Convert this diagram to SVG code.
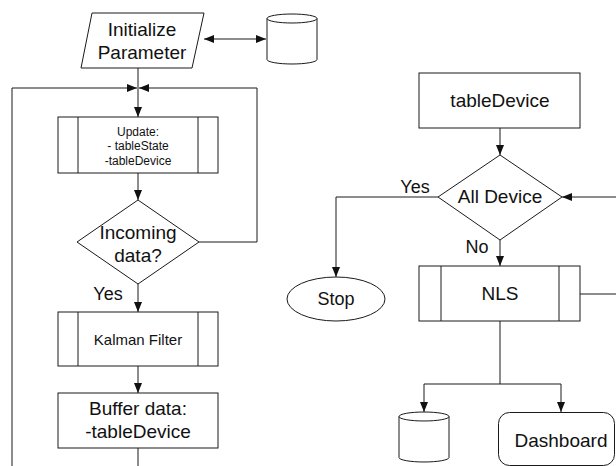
<svg xmlns="http://www.w3.org/2000/svg" width="616" height="466" viewBox="0 0 616 466">
  <style>
    .shape { fill: #ffffff; stroke: #1a1a1a; stroke-width: 1; }
    .edge { fill: none; stroke: #1a1a1a; stroke-width: 1; }
    text { font-family: "Liberation Sans", Arial, sans-serif; fill: #111111; text-anchor: middle; }
    .big { font-size: 19px; }
    .mid { font-size: 18px; }
    .small { font-size: 12px; }
    .kal { font-size: 15px; }
  </style>
  <defs>
    <marker id="arrow" viewBox="0 0 10 8" refX="10" refY="4" markerWidth="10" markerHeight="8" markerUnits="userSpaceOnUse" orient="auto-start-reverse">
      <path d="M0,0 L10,4 L0,8 Z" fill="#111111"/>
    </marker>
  </defs>

  <!-- connectors -->
  <g id="connectors">
    <line class="edge" x1="204" y1="39" x2="266" y2="39" marker-start="url(#arrow)" marker-end="url(#arrow)"/>
    <line class="edge" x1="138" y1="68" x2="138" y2="117" marker-end="url(#arrow)"/>
    <polyline class="edge" points="12,466 12,88 137,88" marker-end="url(#arrow)"/>
    <polyline class="edge" points="199,242 257,242 257,88 139,88" marker-end="url(#arrow)"/>
    <line class="edge" x1="138" y1="173" x2="138" y2="200" marker-end="url(#arrow)"/>
    <line class="edge" x1="138" y1="284" x2="138" y2="312" marker-end="url(#arrow)"/>
    <line class="edge" x1="138" y1="366" x2="138" y2="393" marker-end="url(#arrow)"/>
    <line class="edge" x1="138" y1="448" x2="138" y2="466"/>

    <line class="edge" x1="500" y1="128" x2="500" y2="155" marker-end="url(#arrow)"/>
    <polyline class="edge" points="438,197 336,197 336,277" marker-end="url(#arrow)"/>
    <line class="edge" x1="500" y1="240" x2="500" y2="266" marker-end="url(#arrow)"/>
    <line class="edge" x1="616" y1="197" x2="562" y2="197" marker-end="url(#arrow)"/>
    <line class="edge" x1="580" y1="294" x2="616" y2="294"/>
    <line class="edge" x1="500" y1="321" x2="500" y2="384"/>
    <polyline class="edge" points="424,412 424,384 561,384 561,412" marker-start="url(#arrow)" marker-end="url(#arrow)"/>
  </g>

  <!-- left flow -->
  <g id="init">
    <polygon class="shape" points="92,13 204,13 192,68 81,68"/>
    <text class="big" x="142" y="36">Initialize</text>
    <text class="big" x="142" y="59">Parameter</text>
  </g>
  <g id="storeTop">
    <path class="shape" d="M267,18.5 L267,59.5 A25,4.5 0 0 0 317,59.5 L317,18.5 A25,4.5 0 0 0 267,18.5 Z"/>
    <path class="edge" d="M267,18.5 A25,4.5 0 0 0 317,18.5"/>
  </g>
  <g id="update">
    <rect class="shape" x="58" y="117" width="160" height="56"/>
    <line class="edge" x1="78" y1="117" x2="78" y2="173"/>
    <line class="edge" x1="198" y1="117" x2="198" y2="173"/>
    <text class="small" x="138" y="136">Update:</text>
    <text class="small" x="138" y="150">- tableState</text>
    <text class="small" x="138" y="165">-tableDevice</text>
  </g>
  <g id="incoming">
    <polygon class="shape" points="138,200 199,242 138,284 77,242"/>
    <text class="big" x="138" y="239">Incoming</text>
    <text class="big" x="138" y="262">data?</text>
  </g>
  <g id="yesLeft">
    <text class="mid" x="108" y="300">Yes</text>
  </g>
  <g id="kalman">
    <rect class="shape" x="58" y="312" width="160" height="54"/>
    <line class="edge" x1="78" y1="312" x2="78" y2="366"/>
    <line class="edge" x1="198" y1="312" x2="198" y2="366"/>
    <text class="kal" x="138" y="345">Kalman Filter</text>
  </g>
  <g id="buffer">
    <rect class="shape" x="58" y="393" width="160" height="55"/>
    <text class="big" x="138" y="415">Buffer data:</text>
    <text class="big" x="138" y="438">-tableDevice</text>
  </g>

  <!-- right flow -->
  <g id="tableDevice">
    <rect class="shape" x="419" y="73" width="161" height="55"/>
    <text class="big" x="500" y="107">tableDevice</text>
  </g>
  <g id="allDevice">
    <polygon class="shape" points="500,155 562,197 500,240 438,197"/>
    <text class="big" x="500" y="203">All Device</text>
  </g>
  <g id="labels">
    <text class="mid" x="415" y="193">Yes</text>
    <text class="mid" x="477" y="253">No</text>
  </g>
  <g id="stop">
    <ellipse class="shape" cx="336" cy="299" rx="49" ry="22"/>
    <text class="mid" x="336" y="305">Stop</text>
  </g>
  <g id="nls">
    <rect class="shape" x="419" y="266" width="161" height="55"/>
    <line class="edge" x1="441" y1="266" x2="441" y2="321"/>
    <line class="edge" x1="559" y1="266" x2="559" y2="321"/>
    <text class="big" x="500" y="300">NLS</text>
  </g>
  <g id="storeBottom">
    <path class="shape" d="M399,416.5 L399,457.5 A25,4.5 0 0 0 449,457.5 L449,416.5 A25,4.5 0 0 0 399,416.5 Z"/>
    <path class="edge" d="M399,416.5 A25,4.5 0 0 0 449,416.5"/>
  </g>
  <g id="dashboard">
    <rect class="shape" x="498.5" y="412.5" width="116" height="53" rx="11" ry="11"/>
    <text class="big" x="561" y="447">Dashboard</text>
  </g>
</svg>
